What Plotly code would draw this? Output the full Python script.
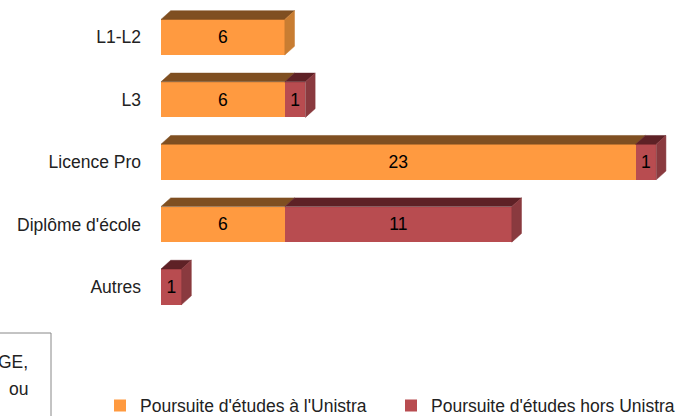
import plotly.graph_objects as go

categories = ["L1-L2", "L3", "Licence Pro", "Diplôme d'école", "Autres"]
unistra = [6, 6, 23, 6, None]
hors_unistra = [None, 1, 1, 11, 1]
series_names = ["Poursuite d'études à l'Unistra", "Poursuite d'études hors Unistra"]

front_colors = ["#FF9A40", "#B84C50"]
top_colors = ["#7F4F21", "#5E2126"]
side_colors = ["#C87D32", "#8A3A3F"]

FONT = "Liberation Sans, Arial, sans-serif"
FS = 17.5
BAR_W = 0.57
DX = 0.47   # depth in x units
DY = 0.14   # depth in category units

idx = list(range(len(categories)))
fig = go.Figure()

series = [unistra, hors_unistra]
for s, vals in enumerate(series):
    fig.add_trace(go.Bar(
        y=idx, x=vals, orientation="h", name=series_names[s],
        width=BAR_W, marker=dict(color=front_colors[s], line=dict(width=0)),
        texttemplate="%{x}", textposition="inside", insidetextanchor="middle",
        textangle=0, constraintext="none",
        textfont=dict(color="black", size=FS, family=FONT),
        hoverinfo="skip",
    ))

# 3D faces computed from the data values
for i in idx:
    base = 0.0
    last = None
    yt = i - BAR_W / 2
    yb = i + BAR_W / 2
    for s, vals in enumerate(series):
        v = vals[i]
        if not v:
            continue
        x0, x1 = base, base + v
        fig.add_trace(go.Scatter(
            x=[x0, x1, x1 + DX, x0 + DX, x0],
            y=[yt, yt, yt - DY, yt - DY, yt],
            fill="toself", fillcolor=top_colors[s], mode="lines",
            line=dict(width=0.5, color=top_colors[s]),
            showlegend=False, hoverinfo="skip",
        ))
        base = x1
        last = s
    if last is not None:
        fig.add_trace(go.Scatter(
            x=[base, base + DX, base + DX, base, base],
            y=[yt, yt - DY, yb - DY, yb, yt],
            fill="toself", fillcolor=side_colors[last], mode="lines",
            line=dict(width=0.5, color=side_colors[last]),
            showlegend=False, hoverinfo="skip",
        ))

W, H = 681, 416
L, R, T, B = 161, 0, 6, 98
pw, ph = W - L - R, H - T - B

def px(x):
    return (x - L) / pw

def py(y):
    return (H - B - y) / ph

fig.update_layout(
    width=W, height=H,
    margin=dict(l=L, r=R, t=T, b=B, autoexpand=False),
    barmode="stack",
    plot_bgcolor="white", paper_bgcolor="white",
    font=dict(family=FONT, size=FS, color="#222"),
    xaxis=dict(range=[0, 25.2], visible=False, fixedrange=True),
    yaxis=dict(range=[4.5, -0.5], tickvals=idx, ticktext=categories,
               showgrid=False, zeroline=False, showline=False,
               ticks="", ticklabelstandoff=19, fixedrange=True,
               tickfont=dict(size=FS, family=FONT, color="#222")),
    showlegend=True,
    legend=dict(orientation="h", x=px(100), y=py(405.5), xanchor="left", yanchor="middle",
                font=dict(size=FS, family=FONT, color="#222"),
                entrywidth=246, entrywidthmode="pixels",
                traceorder="normal", bgcolor="rgba(0,0,0,0)"),
    shapes=[dict(type="rect", xref="paper", yref="paper",
                 x0=px(-5), x1=px(51), y0=py(333), y1=py(425),
                 line=dict(color="#888888", width=1), fillcolor="rgba(0,0,0,0)")],
    annotations=[
        dict(text="GE,", xref="paper", yref="paper", x=px(30), y=py(362),
             xanchor="right", yanchor="middle", showarrow=False,
             font=dict(size=FS, family=FONT, color="#222")),
        dict(text="ou", xref="paper", yref="paper", x=px(30), y=py(389),
             xanchor="right", yanchor="middle", showarrow=False,
             font=dict(size=FS, family=FONT, color="#222")),
    ],
)

fig.write_html("out.html", config={"displayModeBar": False},
               post_script="document.body.style.margin='0';")
